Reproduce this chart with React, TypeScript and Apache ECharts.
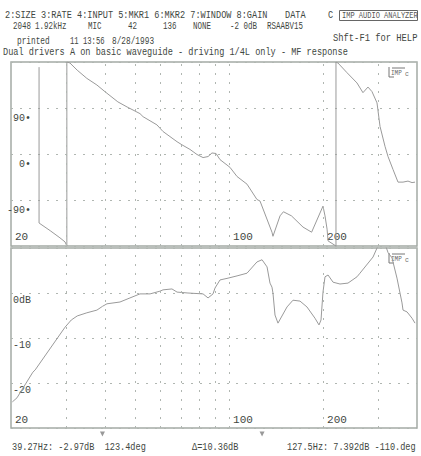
import React, { useEffect, useRef } from 'react';
import * as echarts from 'echarts';

// ---- data ----
const phaseFreq = [24.6, 24.6, 26.7, 28.7, 29.8, 30.2, 30.2, 30.9, 32.6, 35.0, 37.7, 40.0, 44.0, 47.1, 51.8, 53.0, 58.7, 61.4, 68.1, 70.6, 74.9, 78.9, 82.5, 85.6, 88.1, 90.8, 93.5, 100.6, 106.0, 114.1, 122.8, 125.6, 137.2, 138.2, 145.6, 149.3, 158.4, 172.5, 183.8, 199.9, 202.9, 206.0, 207.5, 220.0, 220.0, 223.3, 238.7, 256.9, 268.5, 278.6, 287.0, 297.8, 304.5, 315.9, 323.0, 335.0, 347.7, 360.8, 374.3, 385.6, 394.2];
const phaseDeg = [170, -135, -150, -164, -172, -180, 180, 178, 164, 148, 135, 122, 102, 92, 79, 73, 57, 44, 24, 18, 9, -1, -7, -5, 2, 1, -11, -26, -44, -59, -89, -92, -153, -161, -121, -113, -121, -143, -153, -102, -121, -147, -170, -180, 180, 178, 159, 139, 120, 131, 122, 100, 54, 15, -5, -30, -55, -55, -53, -56, -55];

const magFreq = [20.2, 20.9, 23.5, 23.9, 29.8, 31.2, 32.6, 35.0, 37.7, 39.27, 40.6, 44.7, 48.1, 51.8, 55.8, 60.0, 61.4, 65.6, 68.1, 73.8, 82.5, 85.6, 88.8, 90.1, 93.5, 99.2, 106.0, 114.1, 122.8, 127.5, 132.3, 135.2, 137.2, 138.2, 140.3, 143.4, 153.3, 160.2, 168.7, 177.6, 188.4, 194.1, 197.0, 199.9, 202.9, 207.5, 215.3, 226.6, 240.4, 256.9, 262.6, 289.2, 297.8, 310.0, 323.0, 332.6, 345.1, 358.1, 360.8, 371.6, 385.6, 394.2];
const magDb = [-24.2, -23.3, -17.6, -17.1, -7.6, -6.0, -5.1, -4.4, -3.8, -2.97, -2.4, -2.0, -1.1, -0.2, -0.2, 0.4, 0.7, 0.9, 0.2, 0.0, -0.2, -1.1, -0.2, 1.1, 2.9, 3.3, 3.8, 4.4, 6.9, 7.39, 5.8, 2.2, 1.3, 0.0, -4.9, -6.7, -3.1, -1.6, -1.8, -3.1, -5.6, -7.1, -6.0, 0.2, 3.6, 4.0, 2.4, 2.0, 2.2, 3.6, 4.4, 8.0, 10.0, 12.5, 9.0, 7.8, 3.3, -2.2, -3.8, -4.2, -5.6, -6.7];

const gridFreqs = [30, 40, 50, 60, 70, 80, 90, 100, 200, 300];
const freqTickLabels = [20, 100, 200];
const markerFreqs = [39.27, 127.5];

const header2 = [
  { x: 13, t: '2048' }, { x: 35, t: '1.92kHz' }, { x: 88, t: 'MIC' }, { x: 128, t: '42' },
  { x: 163, t: '136' }, { x: 193, t: 'NONE' }, { x: 230, t: '-2 0dB' }, { x: 267, t: 'RSAABV15' },
];

const FONT = '"Liberation Mono", "DejaVu Sans Mono", monospace';
const TXT = '#3f4742';
const GRID_C = '#a4aaa5';
const CURVE_C = '#9a9a9a';

function txt(x: number, y: number, s: string, size = 11, sx = 0.78, color = TXT): any {
  return {
    type: 'text', x, y, scaleX: sx, silent: true,
    style: { text: s, fontFamily: FONT, fontSize: size, fill: color, verticalAlign: 'middle', textVerticalAlign: 'middle' },
  };
}

function logo(y0: number): any[] {
  return [
    { type: 'polyline', silent: true, shape: { points: [[389, y0], [389, y0 + 10], [394, y0 + 10]] }, style: { stroke: '#777', lineWidth: 1, fill: 'none' } },
    { type: 'line', silent: true, shape: { x1: 392, y1: y0 + 1, x2: 405, y2: y0 + 1 }, style: { stroke: '#777', lineWidth: 1 } },
    txt(391, y0 + 6, 'IMP', 8, 0.75, '#666'),
    txt(405, y0 + 7, 'c', 8, 0.8, '#666'),
  ];
}

export default function App() {
  const ref = useRef<HTMLDivElement>(null);
  useEffect(() => {
    if (!ref.current) return;
    const chart = echarts.init(ref.current, undefined, { renderer: 'svg' });
    const phaseData = phaseFreq.map((f, i) => [f, phaseDeg[i]]);
    const magData = magFreq.map((f, i) => [f, magDb[i]]);
    const gridMark = {
      silent: true,
      symbol: ['none', 'none'],
      label: { show: false },
      lineStyle: { color: '#b0b6b1', type: [2, 7], width: 1 },
      data: gridFreqs.map((f) => ({ xAxis: f })),
    };
    const xAxisBase = (i: number) => ({
      type: 'log', logBase: 10, min: 20, max: 400, gridIndex: i,
      axisLine: { show: false }, axisTick: { show: false }, splitLine: { show: false },
      axisLabel: {
        inside: true, customValues: freqTickLabels,
        formatter: (v: number) => String(Math.round(v)),
        align: 'left', padding: [0, 0, 0, 4], margin: i === 0 ? 4 : 3,
        fontFamily: FONT, fontSize: 11, color: TXT,
      },
    });
    const option: any = {
      animation: false,
      backgroundColor: '#ffffff',
      grid: [
        { left: 11, top: 62, width: 406, height: 184, show: true, borderColor: GRID_C, borderWidth: 1.5, backgroundColor: 'transparent' },
        { left: 11, top: 248, width: 406, height: 180, show: true, borderColor: GRID_C, borderWidth: 1.5, backgroundColor: 'transparent' },
      ],
      xAxis: [xAxisBase(0), xAxisBase(1)],
      yAxis: [
        {
          type: 'value', gridIndex: 0, min: -180, max: 180, interval: 90,
          axisLine: { show: false }, axisTick: { show: false },
          splitLine: { show: true, lineStyle: { color: '#b0b6b1', type: [2, 7], width: 1 } },
          axisLabel: {
            inside: true, margin: 20, align: 'right', verticalAlign: 'top', lineHeight: 20,
            formatter: (v: number) => (Math.abs(v) === 180 ? '' : v + '•'),
            fontFamily: FONT, fontSize: 10, color: TXT,
          },
        },
        {
          type: 'value', gridIndex: 1, min: -30, max: 10, interval: 10,
          axisLine: { show: false }, axisTick: { show: false },
          splitLine: { show: true, lineStyle: { color: '#b0b6b1', type: [2, 7], width: 1 } },
          axisLabel: {
            inside: true, margin: 2, align: 'left', verticalAlign: 'top', lineHeight: 14,
            formatter: (v: number) => (v === 0 ? '0dB' : v === -10 || v === -20 ? String(v) : ''),
            fontFamily: FONT, fontSize: 10, color: TXT,
          },
        },
      ],
      series: [
        {
          type: 'line', name: 'phase', xAxisIndex: 0, yAxisIndex: 0, data: phaseData,
          showSymbol: false, symbol: 'none', lineStyle: { color: CURVE_C, width: 1 },
          markLine: gridMark,
        },
        {
          type: 'line', name: 'magnitude', xAxisIndex: 1, yAxisIndex: 1, data: magData,
          showSymbol: false, symbol: 'none', lineStyle: { color: CURVE_C, width: 1 },
          markLine: gridMark,
          markPoint: {
            silent: true, symbol: 'triangle', symbolSize: 5, symbolRotate: 180, symbolOffset: [0, 6],
            itemStyle: { color: '#999' }, label: { show: false },
            data: markerFreqs.map((f) => ({ coord: [f, -30] })),
          },
        },
      ],
      graphic: [
        txt(5, 15, '2:SIZE 3:RATE 4:INPUT 5:MKR1 6:MKR2 7:WINDOW 8:GAIN'),
        txt(285, 15, 'DATA'),
        txt(328, 15, 'C'),
        { type: 'rect', silent: true, shape: { x: 339.5, y: 10.5, width: 78, height: 10 }, style: { fill: 'none', stroke: '#666', lineWidth: 1 } },
        txt(342, 15.5, 'IMP AUDIO ANALYZER', 9, 0.78, '#555'),
        ...header2.map((h) => txt(h.x, 27, h.t, 10, 0.75)),
        txt(17, 42, 'printed', 10, 0.78),
        txt(70, 42, '11 13:56', 10, 0.72),
        txt(112, 42, '8/28/1993', 10, 0.78),
        txt(333, 38, 'Shft-F1 for HELP', 11, 0.8),
        txt(3, 52, 'Dual drivers A on basic waveguide - driving 1/4L only - MF response'),
        txt(12, 447, '39.27Hz: -2.97dB  123.4deg'),
        txt(192, 447, 'Δ=10.36dB'),
        txt(287, 447, '127.5Hz: 7.392dB -110.deg'),
        ...logo(67),
        ...logo(253),
      ],
    };
    chart.setOption(option);
    return () => chart.dispose();
  }, []);
  return <div ref={ref} style={{ position: 'absolute', left: 0, top: 0, width: 421, height: 456 }} />;
}
